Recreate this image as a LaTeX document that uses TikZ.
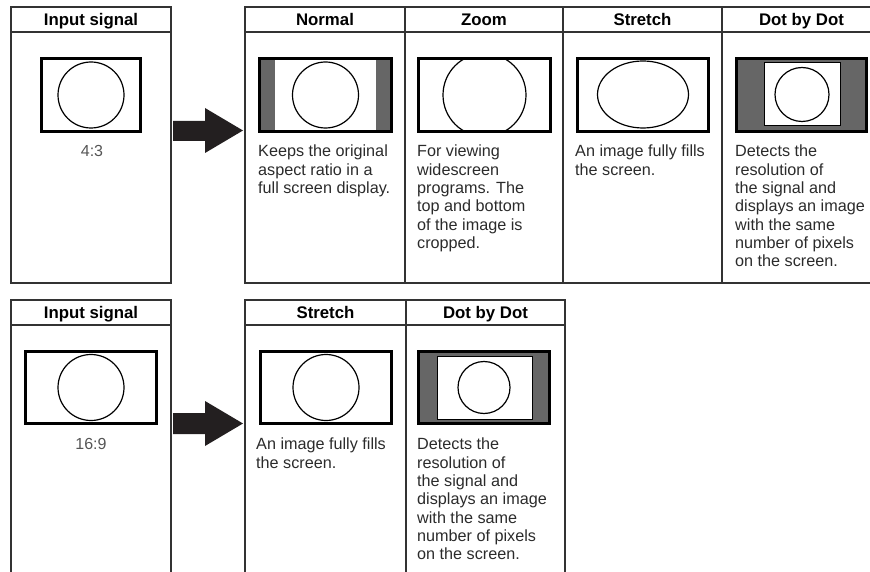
\documentclass[tikz,border=0pt]{standalone}
\usepackage{fontspec}
\setmainfont{Liberation Sans}
\definecolor{txtgrey}{HTML}{2B2B2B}
\definecolor{ratiogrey}{HTML}{555555}
\definecolor{bargrey}{HTML}{666666}
\definecolor{framegrey}{HTML}{333333}
\definecolor{arrowblack}{HTML}{231F20}

\begin{document}
\begin{tikzpicture}[x=1pt,y=-1pt,
  frame/.style={draw=framegrey,line width=1.4pt},
  screen/.style={draw=black,line width=2.8pt},
  face/.style={draw=black,line width=1.2pt},
  head/.style={anchor=base,inner sep=0pt,font=\fontsize{16.8}{18}\selectfont\bfseries},
  desc/.style={anchor=north west,inner sep=0pt,align=left,text=txtgrey,font=\fontsize{16.2}{18.3}\selectfont},
  ratio/.style={anchor=base,inner sep=0pt,text=ratiogrey,font=\fontsize{16}{18}\selectfont}]
\useasboundingbox (0,0) rectangle (870,572);
\clip (0,0) rectangle (870,572);

% 4:3 row
\draw[frame] (11,7) rectangle (171,283);
\draw[frame] (11,32)--(171,32);
\draw[frame] (245,7) rectangle (881,283);
\draw[frame] (245,32)--(881,32);
\draw[frame] (405,7)--(405,283);
\draw[frame] (563,7)--(563,283);
\draw[frame] (722,7)--(722,283);
\fill[arrowblack] (173,121)--(205,121)--(205,108)--(243,130.5)--(205,153)--(205,141)--(173,141)--cycle;

\node[head] (hin1) at (91,26) {Input signal};
\node[head] (hnormal) at (325,26) {Normal};
\node[head] (hzoom) at (484,26) {Zoom};
\node[head] (hstretch1) at (642.5,26) {Stretch};
\node[head] (hdot1) at (801.5,26) {Dot by Dot};

\draw[face] (91,95) circle (33);
\draw[screen] (41.5,58.5) rectangle (140.5,131.5);
\node[ratio] (r43) at (92,157) {4:3};

\fill[bargrey] (258,57) rectangle (275,133);
\fill[bargrey] (376,57) rectangle (393,133);
\draw[face] (325.5,95) circle (33);
\draw[screen] (259.5,58.5) rectangle (391.5,131.5);

\begin{scope}
\clip (418.5,58.5) rectangle (550.5,131.5);
\draw[face] (484.5,95) circle (41.5);
\end{scope}
\draw[screen] (418.5,58.5) rectangle (550.5,131.5);

\draw[face] (643,94.5) ellipse (45.5 and 33.5);
\draw[screen] (577.5,58.5) rectangle (708.5,131.5);

\fill[bargrey] (735,57) rectangle (868,133);
\draw[fill=white,draw=black,line width=1pt] (764,63) rectangle (840,126);
\draw[face] (802,94.5) circle (27);
\draw[screen] (736.5,58.5) rectangle (866.5,131.5);

\node[desc] (dnormal) at (258,145) {Keeps the original\\aspect ratio in a\\full screen display.};
\node[desc] (dzoom) at (417,145) {For viewing\\widescreen\\programs. The\\top and bottom\\of the image is\\cropped.};
\node[desc] (dstretch1) at (575,145) {An image fully fills\\the screen.};
\node[desc] (ddot1) at (735,145) {Detects the\\resolution of\\the signal and\\displays an image\\with the same\\number of pixels\\on the screen.};

% 16:9 row
\draw[frame] (11,300) rectangle (171,590);
\draw[frame] (11,325)--(171,325);
\draw[frame] (245,300) rectangle (565,590);
\draw[frame] (245,325)--(565,325);
\draw[frame] (406,300)--(406,590);
\fill[arrowblack] (173,413)--(205,413)--(205,401)--(243,423.5)--(205,446)--(205,434)--(173,434)--cycle;

\node[head] (hin2) at (91,318) {Input signal};
\node[head] (hstretch2) at (325.5,318) {Stretch};
\node[head] (hdot2) at (485.5,318) {Dot by Dot};

\draw[face] (91,387.5) circle (33);
\draw[screen] (25.5,351.5) rectangle (156.5,423.5);
\node[ratio] (r169) at (91,449) {16:9};

\draw[face] (326,387.5) circle (33);
\draw[screen] (260.5,351.5) rectangle (391.5,423.5);

\fill[bargrey] (417,350) rectangle (551,425);
\draw[fill=white,draw=black,line width=1pt] (437,356) rectangle (532,419);
\draw[face] (484,387.5) circle (26);
\draw[screen] (418.5,351.5) rectangle (549.5,423.5);

\node[desc] (dstretch2) at (256,438) {An image fully fills\\the screen.};
\node[desc] (ddot2) at (417,438) {Detects the\\resolution of\\the signal and\\displays an image\\with the same\\number of pixels\\on the screen.};
\end{tikzpicture}
\end{document}
